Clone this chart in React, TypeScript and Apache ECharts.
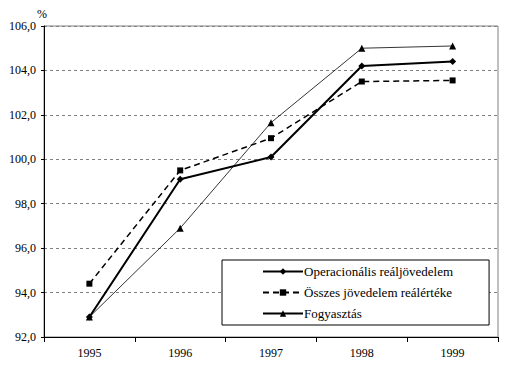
import React, { useEffect, useRef } from "react";
import * as echarts from "echarts";

const years = ["1995", "1996", "1997", "1998", "1999"];
const operacionalis = [92.9, 99.1, 100.1, 104.2, 104.4];
const osszes = [94.4, 99.5, 100.95, 103.5, 103.55];
const fogyasztas = [92.9, 96.9, 101.65, 105.0, 105.1];
const seriesNames = [
  "Operacionális reáljövedelem",
  "Összes jövedelem reálértéke",
  "Fogyasztás",
];

const FONT = "Liberation Serif";
const richA = (size: number) => ({ a: { fontFamily: FONT, fontSize: size, color: "#000" } });

export default function App() {
  const ref = useRef<HTMLDivElement>(null);
  useEffect(() => {
    if (!ref.current) return;
    const chart = echarts.init(ref.current, undefined, { renderer: "svg" });
    chart.setOption({
      animation: false,
      backgroundColor: "#ffffff",
      grid: {
        left: 44,
        right: 18,
        top: 26,
        bottom: 36,
        show: true,
        borderColor: "#808080",
        borderWidth: 1,
      },
      legend: {
        orient: "vertical",
        left: 222,
        top: 260,
        padding: [5, 36, 5, 40],
        itemGap: 8,
        itemWidth: 40,
        itemHeight: 8,
        backgroundColor: "#ffffff",
        borderColor: "#000000",
        borderWidth: 1,
        borderRadius: 0,
        formatter: (n: string) => `{a|${n}}`,
        textStyle: { fontFamily: FONT, fontSize: 13, color: "#000", padding: [0, 0, 0, -4], rich: richA(13) },
        data: seriesNames,
      },
      xAxis: {
        type: "category",
        data: years,
        boundaryGap: true,
        axisLine: { lineStyle: { color: "#000", width: 1 } },
        axisTick: { show: true, length: 5, lineStyle: { color: "#000" } },
        axisLabel: {
          color: "#000",
          fontFamily: FONT,
          fontSize: 12,
          margin: 10,
          formatter: (v: string) => `{a|${v}}`,
          rich: richA(12),
        },
        splitLine: { show: false },
      },
      yAxis: {
        type: "value",
        min: 92,
        max: 106,
        interval: 2,
        name: "{a|%}",
        nameLocation: "end",
        nameGap: 4,
        nameTextStyle: { color: "#000", fontFamily: FONT, fontSize: 12, padding: [0, 0, 0, -4], rich: richA(12) },
        axisLine: { show: true, lineStyle: { color: "#000", width: 1 } },
        axisTick: { show: true, length: 3, lineStyle: { color: "#000" } },
        axisLabel: {
          color: "#000",
          fontFamily: FONT,
          fontSize: 12,
          margin: 8,
          formatter: (v: number) => `{a|${v.toFixed(1).replace(".", ",")}}`,
          rich: richA(12),
        },
        splitLine: { show: true, lineStyle: { color: "#808080", type: [3, 3], width: 1 } },
      },
      series: [
        {
          name: seriesNames[0],
          type: "line",
          data: operacionalis,
          symbol: "diamond",
          symbolSize: 7,
          itemStyle: { color: "#000" },
          lineStyle: { color: "#000", width: 2 },
          z: 3,
        },
        {
          name: seriesNames[1],
          type: "line",
          data: osszes,
          symbol: "rect",
          symbolSize: 6,
          itemStyle: { color: "#000" },
          lineStyle: { color: "#000", width: 1.5, type: [6, 4] },
          z: 2,
        },
        {
          name: seriesNames[2],
          type: "line",
          data: fogyasztas,
          symbol: "triangle",
          symbolSize: 7,
          itemStyle: { color: "#000" },
          lineStyle: { color: "#000", width: 0.8 },
          z: 1,
        },
      ],
    });
    return () => chart.dispose();
  }, []);
  return <div ref={ref} style={{ width: 516, height: 373, margin: -8 }} />;
}
